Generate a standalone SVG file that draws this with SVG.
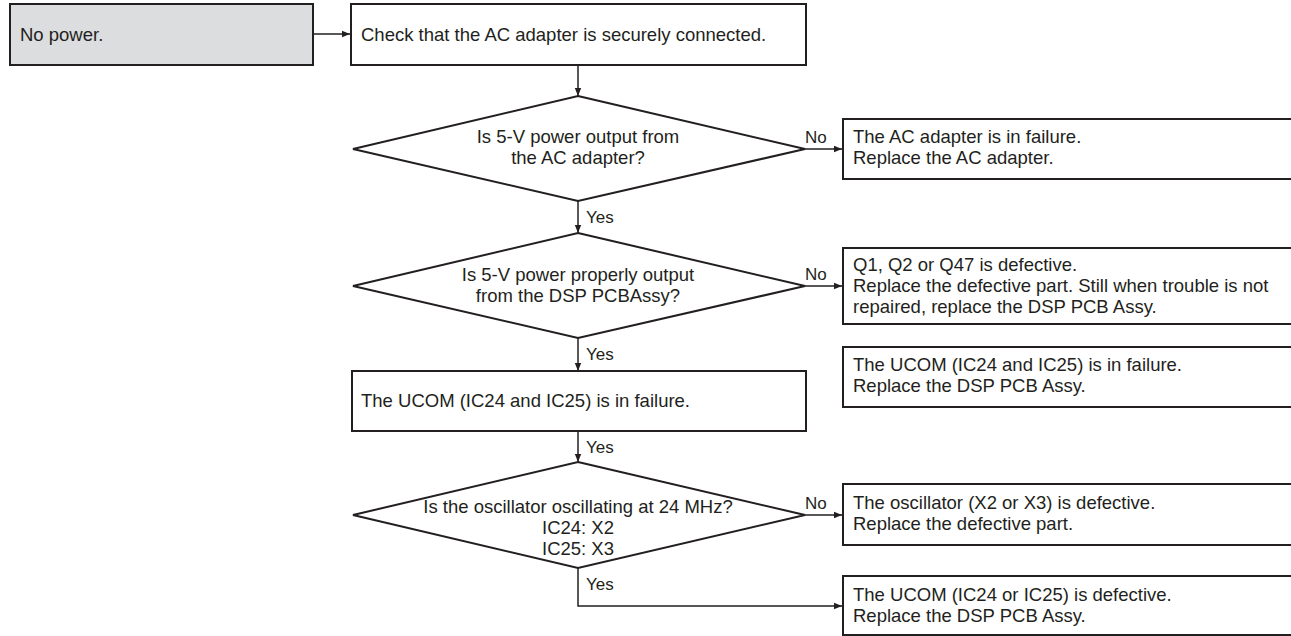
<svg xmlns="http://www.w3.org/2000/svg" width="1291" height="636" viewBox="0 0 1291 636">
  <style>
    .box { fill: #ffffff; stroke: #231f20; stroke-width: 2; }
    .start { fill: #dcdddf; stroke: #231f20; stroke-width: 2; }
    .dia { fill: #ffffff; stroke: #231f20; stroke-width: 2; }
    .t { font-family: "Liberation Sans", Arial, sans-serif; font-size: 18.5px; fill: #231f20; }
    .c { text-anchor: middle; }
    .lbl { font-family: "Liberation Sans", Arial, sans-serif; font-size: 17px; fill: #231f20; }
    .wire { fill: none; stroke: #231f20; stroke-width: 1.5; }
  </style>
  <defs>
    <marker id="arrow" viewBox="0 0 10 10" refX="10" refY="5" markerWidth="8" markerHeight="8" markerUnits="userSpaceOnUse" orient="auto">
      <path d="M0,1 L10,5 L0,9 z" fill="#231f20"/>
    </marker>
  </defs>

  <rect width="1291" height="636" fill="#ffffff"/>

  <!-- connectors -->
  <g id="connectors">
    <line class="wire" x1="313" y1="34" x2="350" y2="34" marker-end="url(#arrow)"/>
    <line class="wire" x1="578" y1="65" x2="578" y2="96" marker-end="url(#arrow)"/>
    <line class="wire" x1="805" y1="149" x2="842" y2="149" marker-end="url(#arrow)"/>
    <line class="wire" x1="578" y1="201" x2="578" y2="233" marker-end="url(#arrow)"/>
    <line class="wire" x1="805" y1="286" x2="842" y2="286" marker-end="url(#arrow)"/>
    <line class="wire" x1="578" y1="338" x2="578" y2="371" marker-end="url(#arrow)"/>
    <line class="wire" x1="578" y1="431" x2="578" y2="462" marker-end="url(#arrow)"/>
    <line class="wire" x1="805" y1="515" x2="842" y2="515" marker-end="url(#arrow)"/>
    <polyline class="wire" points="578,568 578,606 842,606" marker-end="url(#arrow)"/>
    <text class="lbl" x="805" y="143">No</text>
    <text class="lbl" x="586" y="223">Yes</text>
    <text class="lbl" x="805" y="280">No</text>
    <text class="lbl" x="586" y="360">Yes</text>
    <text class="lbl" x="586" y="453">Yes</text>
    <text class="lbl" x="805" y="509">No</text>
    <text class="lbl" x="586" y="590">Yes</text>
  </g>

  <!-- start -->
  <g id="no-power">
    <rect class="start" x="10" y="4" width="303" height="61"/>
    <text class="t" x="20" y="41">No power.</text>
  </g>

  <g id="check-adapter">
    <rect class="box" x="351" y="4" width="455" height="61"/>
    <text class="t" x="361" y="41">Check that the AC adapter is securely connected.</text>
  </g>

  <g id="q-adapter-output">
    <polygon class="dia" points="578,96 805,149 578,201 353,149"/>
    <text class="t c" x="578" y="143">Is 5-V power output from</text>
    <text class="t c" x="578" y="164">the AC adapter?</text>
  </g>

  <g id="adapter-failure">
    <rect class="box" x="843" y="119" width="460" height="60"/>
    <text class="t" x="853" y="143">The AC adapter is in failure.</text>
    <text class="t" x="853" y="164">Replace the AC adapter.</text>
  </g>

  <g id="q-dsp-output">
    <polygon class="dia" points="578,233 805,286 578,338 353,286"/>
    <text class="t c" x="578" y="281">Is 5-V power properly output</text>
    <text class="t c" x="578" y="302">from the DSP PCBAssy?</text>
  </g>

  <g id="transistor-defect">
    <rect class="box" x="843" y="248" width="460" height="76"/>
    <text class="t" x="853" y="271">Q1, Q2 or Q47 is defective.</text>
    <text class="t" x="853" y="292">Replace the defective part. Still when trouble is not</text>
    <text class="t" x="853" y="313">repaired, replace the DSP PCB Assy.</text>
  </g>

  <g id="ucom-failure-note">
    <rect class="box" x="843" y="347" width="460" height="60"/>
    <text class="t" x="853" y="371">The UCOM (IC24 and IC25) is in failure.</text>
    <text class="t" x="853" y="392">Replace the DSP PCB Assy.</text>
  </g>

  <g id="ucom-failure">
    <rect class="box" x="352" y="371" width="454" height="60"/>
    <text class="t" x="361" y="407">The UCOM (IC24 and IC25) is in failure.</text>
  </g>

  <g id="q-oscillator">
    <polygon class="dia" points="578,462 805,515 578,568 353,515"/>
    <text class="t c" x="578" y="513">Is the oscillator oscillating at 24 MHz?</text>
    <text class="t c" x="578" y="534">IC24: X2</text>
    <text class="t c" x="578" y="555">IC25: X3</text>
  </g>

  <g id="oscillator-defect">
    <rect class="box" x="843" y="484" width="460" height="61"/>
    <text class="t" x="853" y="509">The oscillator (X2 or X3) is defective.</text>
    <text class="t" x="853" y="530">Replace the defective part.</text>
  </g>

  <g id="ucom-defect">
    <rect class="box" x="843" y="576" width="460" height="59"/>
    <text class="t" x="853" y="601">The UCOM (IC24 or IC25) is defective.</text>
    <text class="t" x="853" y="622">Replace the DSP PCB Assy.</text>
  </g>
</svg>
